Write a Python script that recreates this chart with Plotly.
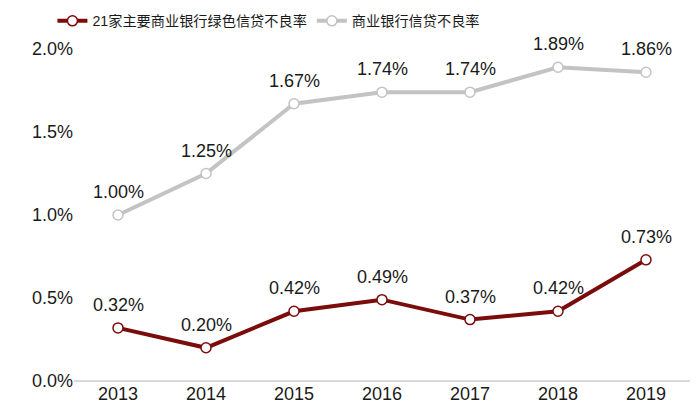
import plotly.graph_objects as go

years = [2013, 2014, 2015, 2016, 2017, 2018, 2019]
green_npl = [0.32, 0.20, 0.42, 0.49, 0.37, 0.42, 0.73]
bank_npl = [1.00, 1.25, 1.67, 1.74, 1.74, 1.89, 1.86]
series_names = ["21家主要商业银行绿色信贷不良率", "商业银行信贷不良率"]
ytick_vals = [0.0, 0.5, 1.0, 1.5, 2.0]
ytick_text = ["0.0%", "0.5%", "1.0%", "1.5%", "2.0%"]

red = "#7b0c0c"
gray = "#c3c3c3"
fnt = "Liberation Sans, Arial, sans-serif"
cjk = "Liberation Sans, Noto Sans CJK SC, sans-serif"

fig = go.Figure()
for name, vals, col in [(series_names[0], green_npl, red), (series_names[1], bank_npl, gray)]:
    fig.add_trace(go.Scatter(
        x=years, y=vals, name=name, mode="lines+markers",
        line=dict(color=col, width=4),
        marker=dict(size=10, color="white", line=dict(color=col, width=1.5)),
    ))
    for x, v in zip(years, vals):
        fig.add_annotation(x=x, y=v, text=f"{v:.2f}%", showarrow=False,
                           yshift=23, font=dict(family=fnt, size=18, color="#1a1a1a"))

fig.update_layout(
    width=700, height=418,
    margin=dict(l=66, r=18, t=41, b=45, autoexpand=False),
    paper_bgcolor="white", plot_bgcolor="white",
    showlegend=True,
    legend=dict(orientation="h", x=-0.035, xanchor="left", y=1.084, yanchor="middle",
                font=dict(family=cjk, size=14.2, color="#1a1a1a"), itemwidth=30,
                traceorder="normal", bgcolor="rgba(0,0,0,0)"),
    xaxis=dict(range=[2012.5, 2019.5], tickvals=years, ticktext=[str(y) for y in years],
               showgrid=False, showline=False, ticks="", zeroline=False,
               tickfont=dict(family=fnt, size=18, color="#1a1a1a")),
    yaxis=dict(range=[0, 2.0], tickvals=ytick_vals, ticktext=ytick_text,
               showgrid=False, zeroline=True, zerolinecolor="#d9d9d9", zerolinewidth=2,
               tickfont=dict(family=fnt, size=18, color="#1a1a1a"), ticks="", ticklen=8,
               tickcolor="white"),
)
fig.write_html("out.html")
